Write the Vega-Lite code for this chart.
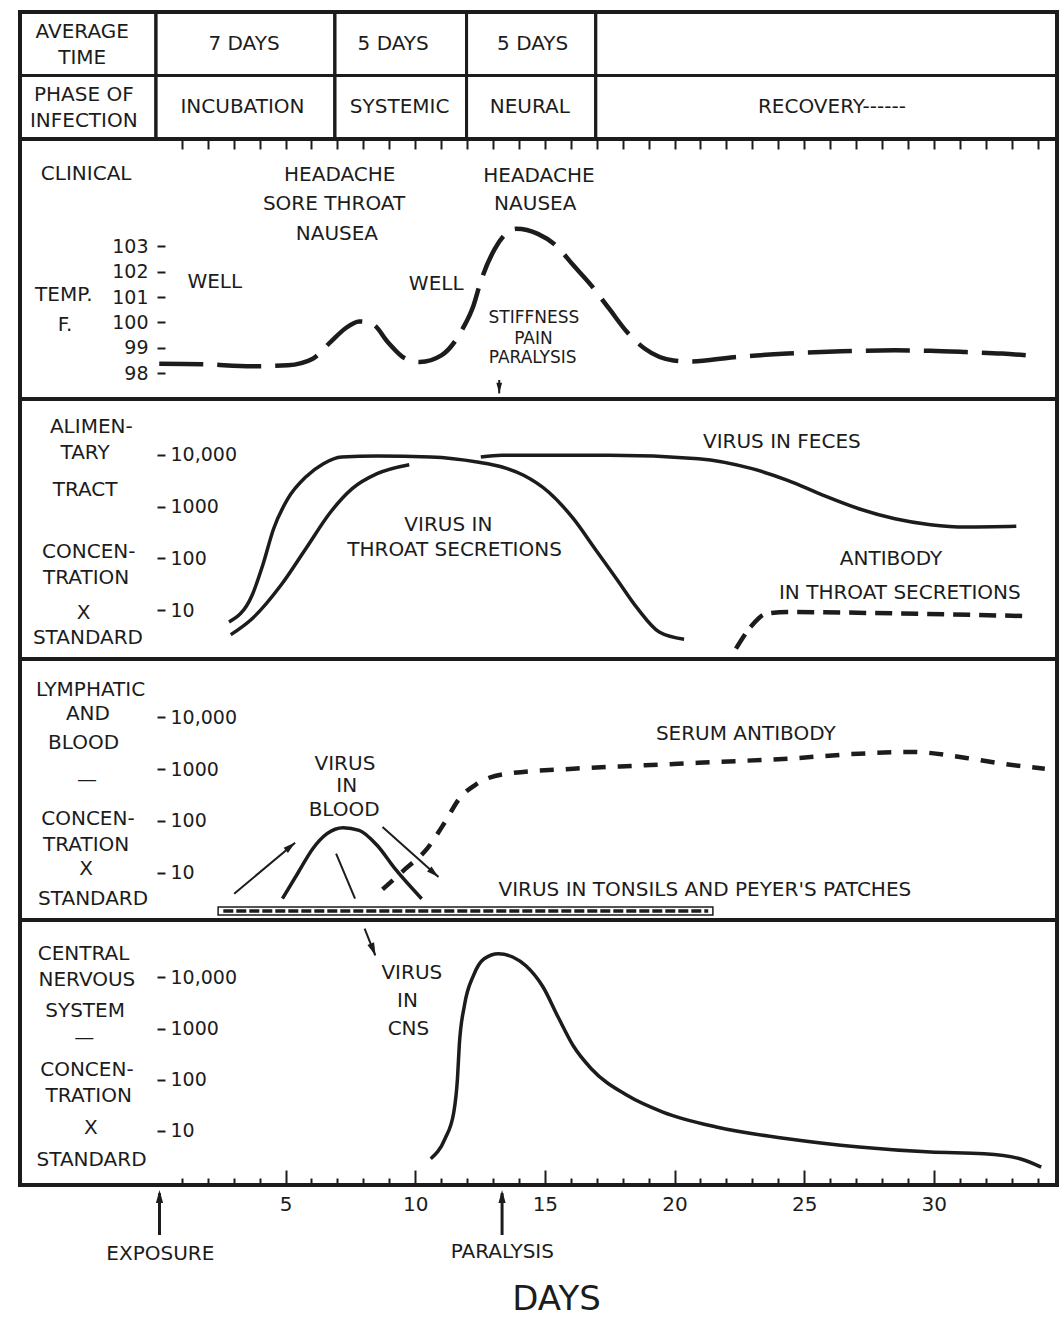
{
  "$schema": "https://vega.github.io/schema/vega-lite/v6.json",
  "background": "white",
  "padding": {"left": 16, "top": 8, "right": 0, "bottom": 0},
  "spacing": 0,
  "bounds": "flush",
  "datasets": {
    "header_cells": [
      {"row": "time", "day": -5.24, "day2": 0}, {"row": "time", "day": 0, "day2": 6.9}, {"row": "time", "day": 6.9, "day2": 11.98}, {"row": "time", "day": 11.98, "day2": 16.96}, {"row": "time", "day": 16.96, "day2": 34.75},
      {"row": "phase", "day": -5.24, "day2": 0}, {"row": "phase", "day": 0, "day2": 6.9}, {"row": "phase", "day": 6.9, "day2": 11.98}, {"row": "phase", "day": 11.98, "day2": 16.96}, {"row": "phase", "day": 16.96, "day2": 34.75}
    ],
    "header_side": [
      {"row": "time", "day": -2.84, "label": "AVERAGE\nTIME"},
      {"row": "phase", "day": -2.78, "label": "PHASE OF\nINFECTION"}
    ],
    "header_text": [
      {"row": "time", "day": 3.4, "label": "7 DAYS"},
      {"row": "time", "day": 9.15, "label": "5 DAYS"},
      {"row": "time", "day": 14.53, "label": "5 DAYS"},
      {"row": "phase", "day": 3.34, "label": "INCUBATION"},
      {"row": "phase", "day": 9.4, "label": "SYSTEMIC"},
      {"row": "phase", "day": 14.42, "label": "NEURAL"},
      {"row": "phase", "day": 26.07, "label": "RECOVERY------"}
    ],
    "clinical_temp": [
      {"day": 0.13, "v": 98.37}, {"day": 1.79, "v": 98.35}, {"day": 3.71, "v": 98.27}, {"day": 5.09, "v": 98.31},
      {"day": 6.05, "v": 98.57}, {"day": 6.74, "v": 99.23}, {"day": 7.29, "v": 99.75}, {"day": 7.84, "v": 100.04},
      {"day": 8.39, "v": 99.91}, {"day": 8.94, "v": 99.23}, {"day": 9.63, "v": 98.57}, {"day": 10.18, "v": 98.44},
      {"day": 11.01, "v": 98.7}, {"day": 11.83, "v": 99.75}, {"day": 12.25, "v": 100.67}, {"day": 12.52, "v": 101.59},
      {"day": 13.07, "v": 102.9}, {"day": 13.9, "v": 103.69}, {"day": 14.73, "v": 103.49}, {"day": 15.42, "v": 103.04},
      {"day": 16.1, "v": 102.25}, {"day": 16.79, "v": 101.46}, {"day": 17.48, "v": 100.54}, {"day": 18.17, "v": 99.62},
      {"day": 18.86, "v": 98.96}, {"day": 19.96, "v": 98.5}, {"day": 20.65, "v": 98.46}, {"day": 22.29, "v": 98.63},
      {"day": 24.36, "v": 98.77}, {"day": 26.43, "v": 98.86}, {"day": 28.5, "v": 98.9}, {"day": 29.87, "v": 98.88},
      {"day": 31.25, "v": 98.83}, {"day": 32.63, "v": 98.77}, {"day": 34.0, "v": 98.67}
    ],
    "clinical_text": [
      {"day": -2.69, "v": 105.85, "label": "CLINICAL"},
      {"day": -3.55, "v": 101.08, "label": "TEMP."},
      {"day": -3.5, "v": 99.9, "label": "F."},
      {"day": 2.27, "v": 101.59, "label": "WELL"},
      {"day": 7.09, "v": 105.8, "label": "HEADACHE"},
      {"day": 6.87, "v": 104.68, "label": "SORE THROAT"},
      {"day": 6.98, "v": 103.49, "label": "NAUSEA"},
      {"day": 10.81, "v": 101.52, "label": "WELL"},
      {"day": 14.77, "v": 105.76, "label": "HEADACHE"},
      {"day": 14.63, "v": 104.67, "label": "NAUSEA"}
    ],
    "clinical_signs": [
      {"day": 14.58, "v": 100.17, "label": "STIFFNESS"},
      {"day": 14.56, "v": 99.36, "label": "PAIN"},
      {"day": 14.53, "v": 98.58, "label": "PARALYSIS"}
    ],
    "clinical_arrow": [{"day": 13.24, "v": 97.73, "v2": 97.2}],
    "clinical_head": [{"day": 13.24, "v": 97.41}],
    "alim_curves": [
      {"seg": "throat", "day": 2.82, "v": 5.92}, {"seg": "throat", "day": 3.71, "v": 19.4}, {"seg": "throat", "day": 4.12, "v": 73.6},
      {"seg": "throat", "day": 4.54, "v": 374}, {"seg": "throat", "day": 5.09, "v": 1422}, {"seg": "throat", "day": 5.78, "v": 3726},
      {"seg": "throat", "day": 6.46, "v": 6730}, {"seg": "throat", "day": 7.16, "v": 9075}, {"seg": "throat", "day": 8.53, "v": 9490},
      {"seg": "throat", "day": 10.6, "v": 9075}, {"seg": "throat", "day": 12.39, "v": 7260}, {"seg": "throat", "day": 13.35, "v": 5810},
      {"seg": "throat", "day": 14.18, "v": 4020}, {"seg": "throat", "day": 15.14, "v": 1914}, {"seg": "throat", "day": 16.1, "v": 584},
      {"seg": "throat", "day": 16.93, "v": 154}, {"seg": "throat", "day": 17.76, "v": 40.6}, {"seg": "throat", "day": 18.58, "v": 10.7},
      {"seg": "throat", "day": 19.41, "v": 3.79}, {"seg": "throat", "day": 20.37, "v": 2.74},
      {"seg": "feces1", "day": 2.89, "v": 3.37}, {"seg": "feces1", "day": 3.71, "v": 6.85}, {"seg": "feces1", "day": 4.82, "v": 30.3},
      {"seg": "feces1", "day": 5.78, "v": 154}, {"seg": "feces1", "day": 6.74, "v": 787}, {"seg": "feces1", "day": 7.57, "v": 2218},
      {"seg": "feces1", "day": 8.53, "v": 4317}, {"seg": "feces1", "day": 9.77, "v": 6442},
      {"seg": "feces2", "day": 12.53, "v": 9075}, {"seg": "feces2", "day": 13.35, "v": 9775}, {"seg": "feces2", "day": 17.48, "v": 9775},
      {"seg": "feces2", "day": 20.92, "v": 8410}, {"seg": "feces2", "day": 22.99, "v": 5395}, {"seg": "feces2", "day": 24.36, "v": 3221},
      {"seg": "feces2", "day": 25.74, "v": 1652}, {"seg": "feces2", "day": 27.11, "v": 910}, {"seg": "feces2", "day": 28.5, "v": 584},
      {"seg": "feces2", "day": 29.87, "v": 448}, {"seg": "feces2", "day": 31.25, "v": 404}, {"seg": "feces2", "day": 33.18, "v": 417}
    ],
    "alim_antibody": [
      {"day": 22.37, "v": 1.81}, {"day": 22.99, "v": 5.11}, {"day": 23.54, "v": 8.56},
      {"day": 24.36, "v": 9.23}, {"day": 28.77, "v": 8.63}, {"day": 33.45, "v": 7.73}
    ],
    "alim_text": [
      {"day": -2.49, "v": 34400, "label": "ALIMEN-"},
      {"day": -2.73, "v": 10840, "label": "TARY"},
      {"day": -2.73, "v": 2090, "label": "TRACT"},
      {"day": -2.59, "v": 133, "label": "CONCEN-"},
      {"day": -2.69, "v": 41.9, "label": "TRATION"},
      {"day": -2.79, "v": 9.0, "label": "X"},
      {"day": -2.62, "v": 2.95, "label": "STANDARD"},
      {"day": 11.28, "v": 435, "label": "VIRUS IN"},
      {"day": 11.52, "v": 145, "label": "THROAT SECRETIONS"},
      {"day": 24.14, "v": 17660, "label": "VIRUS IN FECES"},
      {"day": 28.35, "v": 98.8, "label": "ANTIBODY"},
      {"day": 28.69, "v": 21.5, "label": "IN THROAT SECRETIONS"}
    ],
    "lymph_blood": [
      {"day": 4.88, "v": 3.16}, {"day": 5.5, "v": 10.35}, {"day": 6.05, "v": 29.2}, {"day": 6.6, "v": 56.9},
      {"day": 7.22, "v": 74.3}, {"day": 7.84, "v": 66.1}, {"day": 8.53, "v": 34.0}, {"day": 9.22, "v": 12.0}, {"day": 10.25, "v": 3.16}
    ],
    "lymph_serum": [
      {"day": 8.74, "v": 4.8}, {"day": 9.63, "v": 12.0}, {"day": 10.46, "v": 29.2}, {"day": 11.15, "v": 95.7},
      {"day": 11.7, "v": 270}, {"day": 12.39, "v": 525}, {"day": 13.35, "v": 791}, {"day": 16.1, "v": 1023},
      {"day": 18.86, "v": 1189}, {"day": 21.61, "v": 1377}, {"day": 24.36, "v": 1596}, {"day": 27.12, "v": 1991},
      {"day": 29.18, "v": 2148}, {"day": 31.25, "v": 1644}, {"day": 32.63, "v": 1276}, {"day": 34.28, "v": 1023}
    ],
    "lymph_bar": [{"day": 2.4, "day2": 21.48, "v": 1.54, "v2": 2.19}],
    "lymph_barline": [{"day": 2.6, "day2": 21.3, "v": 1.83}],
    "lymph_arrows": [
      {"day": 3.02, "v": 3.95, "day2": 5.37, "v2": 38.1},
      {"day": 8.74, "v": 76.6, "day2": 10.9, "v2": 8.3},
      {"day": 6.95, "v": 23.4, "day2": 7.68, "v2": 3.16}
    ],
    "lymph_head_up": [{"day": 5.19, "v": 32.2}],
    "lymph_head_down": [{"day": 10.72, "v": 9.91}],
    "lymph_text": [
      {"day": -2.52, "v": 33800, "label": "LYMPHATIC"},
      {"day": -2.62, "v": 11640, "label": "AND"},
      {"day": -2.79, "v": 3206, "label": "BLOOD"},
      {"day": -2.66, "v": 619, "label": "—"},
      {"day": -2.62, "v": 109.4, "label": "CONCEN-"},
      {"day": -2.69, "v": 34.4, "label": "TRATION"},
      {"day": -2.69, "v": 11.8, "label": "X"},
      {"day": -2.42, "v": 3.16, "label": "STANDARD"},
      {"day": 7.29, "v": 1277, "label": "VIRUS"},
      {"day": 7.36, "v": 468, "label": "IN"},
      {"day": 7.26, "v": 161, "label": "BLOOD"},
      {"day": 22.75, "v": 4842, "label": "SERUM ANTIBODY"},
      {"day": 21.17, "v": 4.66, "label": "VIRUS IN TONSILS AND PEYER'S PATCHES"}
    ],
    "cns_curve": [
      {"day": 10.6, "v": 2.85}, {"day": 11.15, "v": 7.01}, {"day": 11.49, "v": 23.3}, {"day": 11.63, "v": 104.5},
      {"day": 11.7, "v": 470}, {"day": 11.9, "v": 2846}, {"day": 12.25, "v": 10990}, {"day": 12.66, "v": 23180},
      {"day": 13.21, "v": 29040}, {"day": 13.76, "v": 25020}, {"day": 14.28, "v": 16680}, {"day": 14.93, "v": 6486},
      {"day": 15.51, "v": 1680}, {"day": 16.1, "v": 455}, {"day": 16.79, "v": 164}, {"day": 18.17, "v": 49.5},
      {"day": 19.55, "v": 23.3}, {"day": 21.61, "v": 11.9}, {"day": 24.36, "v": 7.01}, {"day": 27.12, "v": 4.83},
      {"day": 29.87, "v": 3.85}, {"day": 31.94, "v": 3.57}, {"day": 33.32, "v": 2.85}, {"day": 34.14, "v": 1.96}
    ],
    "cns_arrow": [{"day": 8.05, "v": 89500, "day2": 8.46, "v2": 27000}],
    "cns_head": [{"day": 8.38, "v": 34760}],
    "cns_text": [
      {"day": -2.79, "v": 29040, "label": "CENTRAL"},
      {"day": -2.66, "v": 8890, "label": "NERVOUS"},
      {"day": -2.73, "v": 2203, "label": "SYSTEM"},
      {"day": -2.76, "v": 653, "label": "—"},
      {"day": -2.66, "v": 154.5, "label": "CONCEN-"},
      {"day": -2.59, "v": 48, "label": "TRATION"},
      {"day": -2.51, "v": 11.35, "label": "X"},
      {"day": -2.48, "v": 2.69, "label": "STANDARD"},
      {"day": 9.87, "v": 12190, "label": "VIRUS"},
      {"day": 9.7, "v": 3451, "label": "IN"},
      {"day": 9.74, "v": 993, "label": "CNS"}
    ],
    "event_arrows": [
      {"day": 0.14, "v": 0.635, "v2": 0.94},
      {"day": 13.35, "v": 0.635, "v2": 0.94}
    ],
    "event_heads": [{"day": 0.14, "v": 0.916}, {"day": 13.35, "v": 0.916}],
    "event_text": [
      {"day": 0.17, "v": 0.496, "label": "EXPOSURE"},
      {"day": 13.36, "v": 0.511, "label": "PARALYSIS"}
    ]
  },
  "vconcat": [
    {
      "width": 1037,
      "height": 127,
      "encoding": {
        "x": {"field": "day", "type": "quantitative", "scale": {"domain": [-5.24, 34.75], "nice": false, "zero": false},
              "axis": {"orient": "bottom", "values": [1,2,3,4,5,6,7,8,9,10,11,12,13,14,15,16,17,18,19,20,21,22,23,24,25,26,27,28,29,30,31,32,33,34],
                       "tickSize": 10, "tickWidth": 2, "labels": false, "domain": false, "grid": false, "title": null}},
        "y": {"field": "row", "type": "nominal", "scale": {"domain": ["time", "phase"], "paddingInner": 0, "paddingOuter": 0}, "axis": null}
      },
      "layer": [
        {"data": {"name": "header_cells"}, "mark": {"type": "rect", "filled": false, "stroke": "#1c1c1c", "strokeWidth": 3}, "encoding": {"x2": {"field": "day2"}}},
        {"data": {"name": "header_side"}, "mark": {"type": "text", "lineBreak": "\n", "lineHeight": 26, "dy": -12}, "encoding": {"text": {"field": "label"}}},
        {"data": {"name": "header_text"}, "mark": {"type": "text"}, "encoding": {"text": {"field": "label"}}}
      ]
    },
    {
      "width": 1037,
      "height": 260,
      "encoding": {
        "x": {"field": "day", "type": "quantitative", "scale": {"domain": [-5.24, 34.75], "nice": false, "zero": false}, "axis": null},
        "y": {"field": "v", "type": "quantitative", "scale": {"domain": [96.98, 107.23], "nice": false, "zero": false},
              "axis": {"orient": "left", "offset": -137, "values": [98, 99, 100, 101, 102, 103], "tickSize": -8, "tickWidth": 2,
                       "labelPadding": 17, "labelAlign": "right", "labelFontSize": 19, "domain": false, "grid": false, "title": null}}
      },
      "layer": [
        {"data": {"name": "clinical_temp"}, "mark": {"type": "line", "interpolate": "monotone", "strokeDash": [44, 14], "strokeWidth": 4.5, "color": "#1c1c1c"}},
        {"data": {"values": [{}]}, "mark": {"type": "rule", "strokeWidth": 3, "color": "#1c1c1c"}, "encoding": {"x": {"datum": 0}, "y": {"datum": 96.98}, "y2": {"datum": 107.23}}},
        {"data": {"name": "clinical_text"}, "mark": {"type": "text"}, "encoding": {"text": {"field": "label"}}},
        {"data": {"name": "clinical_signs"}, "mark": {"type": "text", "fontSize": 17}, "encoding": {"text": {"field": "label"}}},
        {"data": {"name": "clinical_arrow"}, "mark": {"type": "rule", "strokeWidth": 2, "color": "#1c1c1c"}, "encoding": {"y2": {"field": "v2"}}},
        {"data": {"name": "clinical_head"}, "mark": {"type": "point", "shape": "M0,-1L0.55,1L-0.55,1Z", "filled": true, "size": 110, "angle": 180, "opacity": 1, "color": "#1c1c1c"}}
      ]
    },
    {
      "width": 1037,
      "height": 260,
      "encoding": {
        "x": {"field": "day", "type": "quantitative", "scale": {"domain": [-5.24, 34.75], "nice": false, "zero": false}, "axis": null},
        "y": {"field": "v", "type": "quantitative", "scale": {"type": "log", "domain": [1.143, 119400], "nice": false},
              "axis": {"orient": "left", "offset": -137, "values": [10, 100, 1000, 10000], "tickSize": -8, "tickWidth": 2,
                       "labelPadding": -5, "labelAlign": "left", "labelFontSize": 19,
                       "labelExpr": "datum.value == 10000 ? '10,000' : format(datum.value, 'd')",
                       "domain": false, "grid": false, "title": null}}
      },
      "layer": [
        {"data": {"name": "alim_curves"}, "mark": {"type": "line", "interpolate": "monotone", "strokeWidth": 3.5, "color": "#1c1c1c"}, "encoding": {"detail": {"field": "seg"}}},
        {"data": {"name": "alim_antibody"}, "mark": {"type": "line", "interpolate": "monotone", "strokeDash": [17, 9], "strokeWidth": 4.5, "color": "#1c1c1c"}},
        {"data": {"values": [{}]}, "mark": {"type": "rule", "strokeWidth": 3, "color": "#1c1c1c"}, "encoding": {"x": {"datum": 0}, "y": {"datum": 1.143}, "y2": {"datum": 119400}}},
        {"data": {"name": "alim_text"}, "mark": {"type": "text"}, "encoding": {"text": {"field": "label"}}}
      ]
    },
    {
      "width": 1037,
      "height": 261,
      "encoding": {
        "x": {"field": "day", "type": "quantitative", "scale": {"domain": [-5.24, 34.75], "nice": false, "zero": false}, "axis": null},
        "y": {"field": "v", "type": "quantitative", "scale": {"type": "log", "domain": [1.227, 133970], "nice": false},
              "axis": {"orient": "left", "offset": -137, "values": [10, 100, 1000, 10000], "tickSize": -8, "tickWidth": 2,
                       "labelPadding": -5, "labelAlign": "left", "labelFontSize": 19,
                       "labelExpr": "datum.value == 10000 ? '10,000' : format(datum.value, 'd')",
                       "domain": false, "grid": false, "title": null}}
      },
      "layer": [
        {"data": {"name": "lymph_blood"}, "mark": {"type": "line", "interpolate": "monotone", "strokeWidth": 3.5, "color": "#1c1c1c"}},
        {"data": {"name": "lymph_serum"}, "mark": {"type": "line", "interpolate": "monotone", "strokeDash": [14, 12], "strokeWidth": 4.5, "color": "#1c1c1c"}},
        {"data": {"name": "lymph_bar"}, "mark": {"type": "rect", "fill": "white", "stroke": "#1c1c1c", "strokeWidth": 1.5}, "encoding": {"x2": {"field": "day2"}, "y2": {"field": "v2"}}},
        {"data": {"name": "lymph_barline"}, "mark": {"type": "rule", "strokeDash": [10, 3], "strokeWidth": 3.5, "color": "#1c1c1c"}, "encoding": {"x2": {"field": "day2"}}},
        {"data": {"name": "lymph_arrows"}, "mark": {"type": "rule", "strokeWidth": 2, "color": "#1c1c1c"}, "encoding": {"x2": {"field": "day2"}, "y2": {"field": "v2"}}},
        {"data": {"name": "lymph_head_up"}, "mark": {"type": "point", "shape": "M0,-1L0.55,1L-0.55,1Z", "filled": true, "size": 150, "angle": 50, "opacity": 1, "color": "#1c1c1c"}},
        {"data": {"name": "lymph_head_down"}, "mark": {"type": "point", "shape": "M0,-1L0.55,1L-0.55,1Z", "filled": true, "size": 150, "angle": 132, "opacity": 1, "color": "#1c1c1c"}},
        {"data": {"values": [{}]}, "mark": {"type": "rule", "strokeWidth": 3, "color": "#1c1c1c"}, "encoding": {"x": {"datum": 0}, "y": {"datum": 1.227}, "y2": {"datum": 133970}}},
        {"data": {"name": "lymph_text"}, "mark": {"type": "text"}, "encoding": {"text": {"field": "label"}}}
      ]
    },
    {
      "width": 1037,
      "height": 265,
      "encoding": {
        "x": {"field": "day", "type": "quantitative", "scale": {"domain": [-5.24, 34.75], "nice": false, "zero": false},
              "axis": {"orient": "bottom", "values": [1,2,3,4,5,6,7,8,9,10,11,12,13,14,15,16,17,18,19,20,21,22,23,24,25,26,27,28,29,30,31,32,33,34],
                       "tickSize": {"condition": {"test": "datum.value % 5 === 0", "value": -15}, "value": -7},
                       "tickWidth": 2, "labelExpr": "datum.value % 5 === 0 ? datum.label : ''",
                       "labelFontSize": 20, "labelPadding": 24, "labelOverlap": false, "labelFlush": false,
                       "domain": false, "grid": false,
                       "title": "DAYS", "titleFontSize": 34, "titleFontWeight": "normal", "titlePadding": 60, "titleX": 536}},
        "y": {"field": "v", "type": "quantitative", "scale": {"type": "log", "domain": [0.873, 132400], "nice": false},
              "axis": {"orient": "left", "offset": -137, "values": [10, 100, 1000, 10000], "tickSize": -8, "tickWidth": 2,
                       "labelPadding": -5, "labelAlign": "left", "labelFontSize": 19,
                       "labelExpr": "datum.value == 10000 ? '10,000' : format(datum.value, 'd')",
                       "domain": false, "grid": false, "title": null}}
      },
      "layer": [
        {"data": {"name": "cns_curve"}, "mark": {"type": "line", "interpolate": "monotone", "strokeWidth": 3.5, "color": "#1c1c1c"}},
        {"data": {"name": "cns_arrow"}, "mark": {"type": "rule", "strokeWidth": 2, "color": "#1c1c1c"}, "encoding": {"x2": {"field": "day2"}, "y2": {"field": "v2"}}},
        {"data": {"name": "cns_head"}, "mark": {"type": "point", "shape": "M0,-1L0.55,1L-0.55,1Z", "filled": true, "size": 170, "angle": 158, "opacity": 1, "color": "#1c1c1c"}},
        {"data": {"values": [{}]}, "mark": {"type": "rule", "strokeWidth": 3, "color": "#1c1c1c"}, "encoding": {"x": {"datum": 0}, "y": {"datum": 0.873}, "y2": {"datum": 132400}}},
        {"data": {"name": "cns_text"}, "mark": {"type": "text"}, "encoding": {"text": {"field": "label"}}}
      ]
    },
    {
      "width": 1037,
      "height": 137,
      "view": {"stroke": null},
      "encoding": {
        "x": {"field": "day", "type": "quantitative", "scale": {"domain": [-5.24, 34.75], "nice": false, "zero": false}, "axis": null},
        "y": {"field": "v", "type": "quantitative", "scale": {"domain": [0, 1], "nice": false, "zero": false}, "axis": null}
      },
      "layer": [
        {"data": {"name": "event_arrows"}, "mark": {"type": "rule", "strokeWidth": 3, "color": "#1c1c1c"}, "encoding": {"y2": {"field": "v2"}}},
        {"data": {"name": "event_heads"}, "mark": {"type": "point", "shape": "M0,-1L0.55,1L-0.55,1Z", "filled": true, "size": 170, "angle": 0, "opacity": 1, "color": "#1c1c1c"}},
        {"data": {"name": "event_text"}, "mark": {"type": "text"}, "encoding": {"text": {"field": "label"}}}
      ]
    }
  ],
  "config": {
    "view": {"stroke": "#1c1c1c", "strokeWidth": 4},
    "text": {"font": "DejaVu Sans", "fontSize": 20, "fill": "#1c1c1c"},
    "axis": {"labelFont": "DejaVu Sans", "labelColor": "#1c1c1c", "tickColor": "#1c1c1c", "titleColor": "#1c1c1c", "titleFont": "DejaVu Sans"}
  }
}
